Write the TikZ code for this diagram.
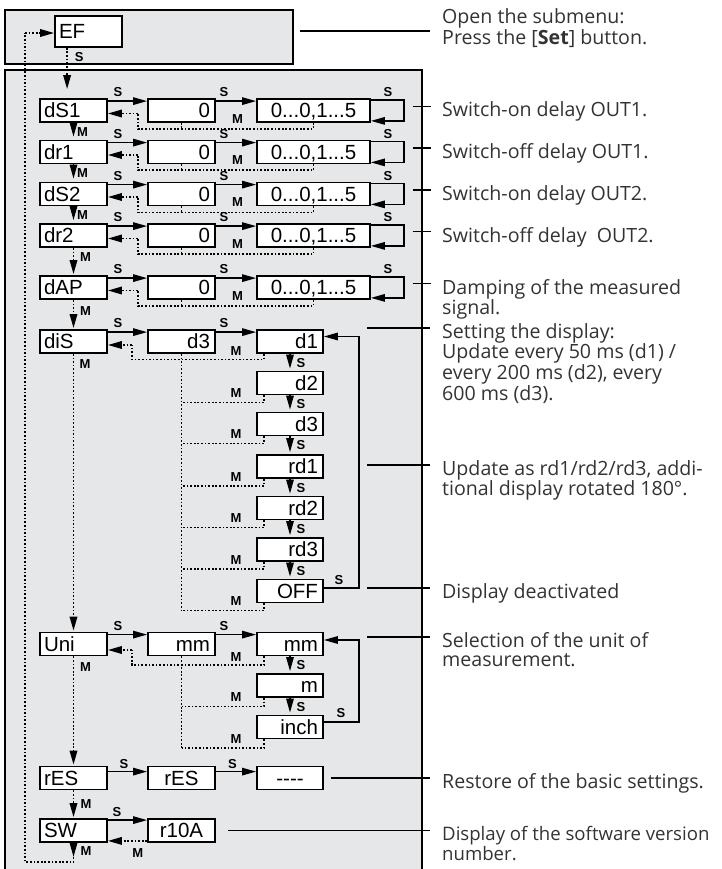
\documentclass[tikz,border=0pt]{standalone}
\usepackage{fontspec}
\setmainfont{Liberation Sans}
\newfontfamily\descfamily{Open Sans}
\usetikzlibrary{arrows.meta,calc}
\definecolor{panelc}{HTML}{E6E7E8}
\definecolor{desctext}{HTML}{333333}
\newcommand\boxfont{\fontsize{20.5}{22}\selectfont}
\newcommand\labfont{\fontsize{13}{13}\selectfont\bfseries}
\newcommand\descfont{\descfamily\fontsize{19.6}{19.5}\selectfont}
\tikzset{
 bx/.style={draw, fill=white, line width=1.8pt, minimum height=23pt, inner ysep=0pt, text height=14.8pt, text depth=0pt, font=\boxfont},
 bl/.style={bx, text width=59pt, inner xsep=4pt, align=left},
 br/.style={bx, text width=57pt, inner xsep=5pt, align=right},
 brn/.style={bx, text width=56pt, inner xsep=5pt, align=right},
 bc/.style={bx, text width=59pt, inner xsep=4pt, align=center},
 bw/.style={bx, text width=105pt, inner xsep=4pt, align=center},
 lab/.style={font=\labfont, inner sep=0pt},
 con/.style={line width=1.4pt},
 dots/.style={line width=1.8pt, dash pattern=on 1.7pt off 1.9pt},
 tip/.style={-{Triangle[length=14pt,width=7.5pt]}},
 desc/.style={font=\descfont, text=desctext, anchor=base west, inner sep=0pt},
 pointer/.style={line width=1.4pt},
 panel/.style={fill=panelc, draw=black, line width=1.3pt}
}
\newcommand\delayrow[3]{%
 \node[bl] (#1) at (73.5,#3) {#2};
 \node[br] (#1z) at (181.5,#3) {0};
 \node[bw] (#1r) at (313.5,#3) {0...0,1...5};
 \coordinate (#1s1) at ($(#1.north east)+(0,3)$);
 \draw[con,tip] (#1s1) -- (#1s1 -| #1z.west);
 \node[lab] at ($(#1.north east)+(10,-6)$) {S};
 \coordinate (#1s2) at ($(#1z.north east)+(0,3)$);
 \draw[con,tip] (#1s2) -- (#1s2 -| #1r.west);
 \node[lab] at ($(#1z.north east)+(8,-6)$) {S};
 \draw[con,tip] ($(#1r.north east)+(0,2)$) -- ++(33,0) |- ($(#1r.south east)+(0,-2)$);
 \node[lab] at ($(#1r.north east)+(17,-6)$) {S};
 \coordinate (#1b) at ($(#1r.south)+(0,6)$);
 \coordinate (#1c) at ($(#1.east)+(0,3)$);
 \draw[dots] (#1r.south) -- (#1b) -- (#1b -| xa) -- (#1c -| xa);
 \draw[dots,tip] (#1c -| xa) -- (#1c);
 \draw[dots] (#1z.south) -- (#1z.south |- #1b);
 \node[lab] at ($(#1b)+(-76,-10)$) {M};
 \draw[pointer] ($(#1r.east)+(42,-4)$) -- ++(18,0);
}
\begin{document}
\begin{tikzpicture}[x=1pt,y=-1pt]
\useasboundingbox (0,0) rectangle (721,869);
\filldraw[panel] (5,10) rectangle (293,64);
\filldraw[panel] (5,70) rectangle (422,875);
\coordinate (xa) at (138,0);
\coordinate (xb) at (132,0);
\coordinate (xl) at (25,0);

% top
\node[bl, minimum height=31pt] (EF) at (88.5,31.5) {EF};
\draw[pointer] (300,31) -- (430,31);

% delay rows
\delayrow{dSa}{dS1}{110.5}
\delayrow{dra}{dr1}{152}
\delayrow{dSb}{dS2}{194}
\delayrow{drb}{dr2}{235.5}
\delayrow{dAP}{dAP}{287.5}

\coordinate (efo) at ($(EF.south west)+(13,0)$);
\draw[dots,tip,shorten >=9pt] (efo) -- (efo |- dSa.north);
\node[lab] at ($(efo)+(12,9)$) {S};

\draw[con,tip,shorten >=3pt] (dSa.south) -- (dra.north);
\node[lab] at ($(dSa.south)+(9,9)$) {M};
\draw[con,tip,shorten >=3pt] (dra.south) -- (dSb.north);
\node[lab] at ($(dra.south)+(9,9)$) {M};
\draw[con,tip,shorten >=3pt] (dSb.south) -- (drb.north);
\node[lab] at ($(dSb.south)+(9,9)$) {M};
\draw[dots,tip,shorten >=1pt] (drb.south) -- (dAP.north);
\node[lab] at ($(drb.south)+(12,9)$) {M};

% display section
\node[bl] (diS) at (73.5,341.5) {diS};
\node[br] (diSz) at (181.5,341.5) {d3};
\node[brn] (d1) at (290,341.5) {d1};
\draw[dots,tip,shorten >=1pt] (dAP.south) -- (diS.north);
\node[lab] at ($(dAP.south)+(12,11)$) {M};
\coordinate (diSs1) at ($(diS.north east)+(0,3)$);
\draw[con,tip] (diSs1) -- (diSs1 -| diSz.west);
\node[lab] at ($(diS.north east)+(10,-6)$) {S};
\coordinate (diSs2) at ($(diSz.north east)+(0,3)$);
\draw[con,tip] (diSs2) -- (diSs2 -| d1.west);
\node[lab] at ($(diSz.north east)+(8,-6)$) {S};
\coordinate (diSb) at ($(d1.south west)+(8,5.5)$);
\coordinate (diSc) at ($(diS.east)+(0,3.5)$);
\draw[dots] ($(d1.south west)+(8,0)$) -- (diSb) -- (diSb -| xb) -- (diSc -| xb);
\draw[dots,tip] (diSc -| xb) -- (diSc);
\node[lab] at ($(diSb)+(-28,-8)$) {M};

\foreach \prev/\nm/\tx/\yy in {d1/d2/d2/383, d2/d3/d3/424, d3/rda/rd1/466.5, rda/rdb/rd2/508, rdb/rdc/rd3/549.5, rdc/OFF/OFF/591}{
 \node[brn] (\nm) at (290,\yy) {\tx};
 \draw[con,tip,shorten >=2pt] (\prev.south) -- (\nm.north);
 \node[lab] at ($(\prev.south)+(11,9)$) {S};
 \coordinate (\nm-b) at ($(\nm.south west)+(8,7)$);
 \draw[dots] ($(\nm.south west)+(8,0)$) -- (\nm-b) -- (\nm-b -| diSz.south);
 \node[lab] at ($(\nm-b)+(-28,-9)$) {M};
}
\draw[dots] (diSz.south) -- (diSz.south |- OFF-b);
\draw[con,tip] ($(OFF.east)+(0,-3)$) -- ++(35,0) |- ($(d1.east)+(0,-5)$);
\node[lab] at ($(OFF.east)+(15,-11)$) {S};
\draw[pointer] (367,328) -- (430,328);
\draw[pointer] (367,465) -- (430,465);
\draw[pointer] (367,588) -- (430,588);

% unit section
\node[bl] (Uni) at (73.5,644) {Uni};
\node[br] (Uniz) at (181.5,644) {mm};
\node[brn] (mm) at (290,644) {mm};
\draw[dots,tip,shorten >=1pt] (diS.south) -- (Uni.north);
\node[lab] at ($(diS.south)+(11.5,10)$) {M};
\coordinate (Unis1) at ($(Uni.north east)+(0,3)$);
\draw[con,tip] (Unis1) -- (Unis1 -| Uniz.west);
\node[lab] at ($(Uni.north east)+(10,-6)$) {S};
\coordinate (Unis2) at ($(Uniz.north east)+(0,3)$);
\draw[con,tip] (Unis2) -- (Unis2 -| mm.west);
\node[lab] at ($(Uniz.north east)+(8,-6)$) {S};
\coordinate (Unib) at ($(mm.south west)+(8,8.5)$);
\coordinate (Unic) at ($(Uni.east)+(0,6)$);
\draw[dots] ($(mm.south west)+(8,0)$) -- (Unib) -- (Unib -| xb) -- (Unic -| xb);
\draw[dots,tip] (Unic -| xb) -- (Unic);
\node[lab] at ($(Unib)+(-28,-8)$) {M};
\foreach \prev/\nm/\tx/\yy in {mm/m/m/685.5, m/inch/inch/727}{
 \node[brn] (\nm) at (290,\yy) {\tx};
 \draw[con,tip,shorten >=2pt] (\prev.south) -- (\nm.north);
 \node[lab] at ($(\prev.south)+(11,9)$) {S};
 \coordinate (\nm-b) at ($(\nm.south west)+(8,8.5)$);
 \draw[dots] ($(\nm.south west)+(8,0)$) -- (\nm-b) -- (\nm-b -| Uniz.south);
 \node[lab] at ($(\nm-b)+(-28,-9)$) {M};
}
\draw[dots] (Uniz.south) -- (Uniz.south |- inch-b);
\draw[con,tip] ($(inch.east)+(0,-5)$) -- ++(35,0) |- ($(mm.east)+(0,-4)$);
\node[lab] at ($(inch.east)+(17,-14)$) {S};
\draw[pointer] (367,637) -- (430,637);

% reset
\node[bl] (rES) at (73.5,778) {rES};
\node[bc] (rESz) at (181.5,778) {rES};
\node[bc, text width=58pt] (clr) at (290,778) {-{}-{}-{}-};
\draw[dots,tip,shorten >=1pt] (Uni.south) -- (rES.north);
\node[lab] at ($(Uni.south)+(12,11)$) {M};
\coordinate (rESs1) at ($(rES.north east)+(0,6)$);
\draw[con,tip] (rESs1) -- (rESs1 -| rESz.west);
\node[lab] at ($(rES.north east)+(16,-2)$) {S};
\coordinate (rESs2) at ($(rESz.north east)+(0,6)$);
\draw[con,tip] (rESs2) -- (rESs2 -| clr.west);
\node[lab] at ($(rESz.north east)+(16.5,-2)$) {S};
\draw[pointer] ($(clr.east)+(7,0)$) -- (430,778);

% software
\node[bl] (SW) at (73.5,830.5) {SW};
\node[bc] (r10) at (181.5,830.5) {r10A};
\draw[dots,tip,shorten >=1pt] (rES.south) -- (SW.north);
\node[lab] at ($(rES.south)+(12.5,13.5)$) {M};
\coordinate (SWs1) at ($(SW.north east)+(0,2)$);
\draw[con,tip] (SWs1) -- (SWs1 -| r10.west);
\node[lab] at ($(SW.north east)+(9,-6)$) {S};
\draw[dots,tip] ($(r10.south west)+(0,-2)$) -- ($(SW.south east)+(0,-2)$);
\node[lab] at ($(SW.south east)+(30,10)$) {M};
\draw[pointer] ($(r10.east)+(12,0)$) -- (430,830.5);

% return to EF
\coordinate (swt) at ($(SW.south)+(0,14)$);
\draw[con,tip] (SW.south) -- (swt);
\node[lab] at ($(SW.south)+(12.5,8)$) {M};
\coordinate (lb) at ($(SW.south)+(0,19)$);
\coordinate (efin) at ($(EF.west)+(0,1.5)$);
\draw[dots] (swt) -- (lb) -- (lb -| xl) -- (efin -| xl);
\draw[dots,tip] (efin -| xl) -- (efin);

% descriptions
\node[desc] (t0) at (442,24) {\begin{tabular}[t]{@{}l@{}}Open the submenu:\\Press the [\textbf{Set}] button.\end{tabular}};
\node[desc] (t1) at (442,117) {Switch-on delay OUT1.};
\node[desc] (t2) at (442,158.5) {Switch-off delay OUT1.};
\node[desc] (t3) at (442,200.5) {Switch-on delay OUT2.};
\node[desc] (t4) at (442,242) {Switch-off delay\ \ OUT2.};
\node[desc] (t5) at (442,294) {\begin{tabular}[t]{@{}l@{}}Damping of the measured\\signal.\end{tabular}};
\node[desc] (t6) at (442,338) {\begin{tabular}[t]{@{}l@{}}Setting the display:\\Update every 50 ms (d1) /\\every 200 ms (d2), every\\600 ms (d3).\end{tabular}};
\node[desc] (t7) at (442,475) {\begin{tabular}[t]{@{}l@{}}Update as rd1/rd2/rd3, addi-\\tional display rotated 180°.\end{tabular}};
\node[desc] (t8) at (442,598) {Display deactivated};
\node[desc] (t9) at (442,647) {\begin{tabular}[t]{@{}l@{}}Selection of the unit of\\measurement.\end{tabular}};
\node[desc] (t10) at (442,788) {Restore of the basic settings.};
\node[desc, font=\descfamily\fontsize{18.6}{19.5}\selectfont] (t11) at (442,840.5) {\begin{tabular}[t]{@{}l@{}}Display of the software version\\number.\end{tabular}};
\end{tikzpicture}
\end{document}
